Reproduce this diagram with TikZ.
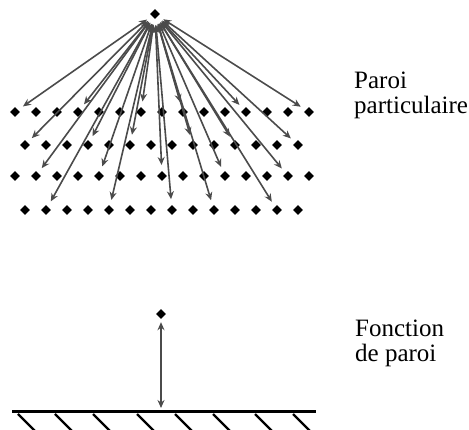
\documentclass[tikz,border=0pt]{standalone}
\usepackage{fontspec}
\setmainfont{Liberation Serif}
\usepackage{tikz}
\usetikzlibrary{shapes.geometric,arrows.meta}
\definecolor{arrgray}{RGB}{75,75,75}
\tikzset{
  dot/.style={diamond,fill=black,inner sep=0pt,minimum size=10pt},
  arr/.style={{Stealth[length=8pt,width=7pt]}-{Stealth[length=8pt,width=7pt]},line width=1.6pt,color=arrgray,
    shorten <=6pt,shorten >=6pt},
  wall/.style={line width=3pt,black},
  hatch/.style={line width=2.2pt,black},
  lbl/.style={anchor=north west,inner sep=0pt,align=left,font=\fontsize{25}{25}\selectfont}
}
\begin{document}
\begin{tikzpicture}[x=1pt,y=-1pt]
    \useasboundingbox (0,0) rectangle (469,430);
    \clip (0,0) rectangle (469,430);
    % paroi particulaire
    \node[dot] (top) at (155,14) {};
    \foreach \r/\y in {1/112,3/176}
      \foreach \i in {1,...,15}
        \node[dot] (d\r-\i) at ({15+21*(\i-1)},\y) {};
    \foreach \r/\y in {2/145,4/210}
      \foreach \i in {1,...,14}
        \node[dot] (d\r-\i) at ({25+21*(\i-1)},\y) {};
    \foreach \t in {1-1,1-4,1-7,1-9,1-12,1-15,2-1,2-4,2-6,2-9,2-11,2-14,
                    3-2,3-5,3-8,3-11,3-14,4-2,4-5,4-8,4-10,4-13}
      \draw[arr] (top) -- (d\t);
    \node[lbl] (parti) at (354,72) {Paroi\\particulaire};

    % fonction de paroi
    \node[dot] (pt) at (161,314) {};
    \coordinate (foot) at (161,411);
    \draw[wall] (12,412) -- (316,412);
    \foreach \x in {18,55,93,137,175,213,255,293}
      \draw[hatch] (\x,414) -- ++(17,17);
    \draw[arr,shorten <=3pt,shorten >=3pt] (pt) -- (foot);
    \node[lbl] (fonc) at (355,320) {Fonction\\de paroi};
\end{tikzpicture}
\end{document}
